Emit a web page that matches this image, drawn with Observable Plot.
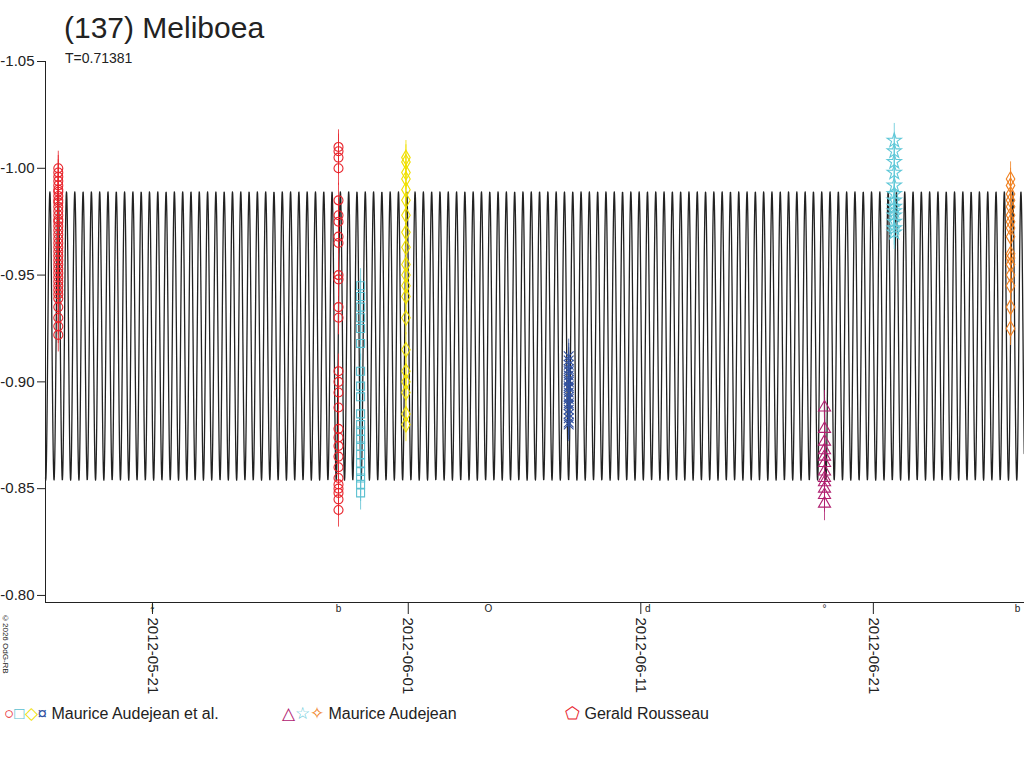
<!DOCTYPE html>
<html><head><meta charset="utf-8">
<script src="https://cdn.jsdelivr.net/npm/d3@7"></script>
<script src="https://cdn.jsdelivr.net/npm/@observablehq/plot@0.6"></script>
<style>
body{margin:0;background:#fff;font-family:"Liberation Sans",Arial,sans-serif;}
#wrap{position:relative;width:1024px;height:768px;overflow:hidden}
#title{position:absolute;left:64px;top:11px;font-size:30px;color:#222}
#sub{position:absolute;left:65px;top:50px;font-size:14px;color:#222}
#copy{position:absolute;left:1px;top:614px;font-size:8px;writing-mode:vertical-rl;color:#222}
#legend{position:absolute;top:703px;left:4px;font-size:16px;color:#222;width:1020px}
#legend span.g{position:absolute;white-space:nowrap}
#legend b{font-weight:normal;font-size:17px}
</style></head><body>
<div id="wrap"><div id="chart"></div>
<div id="title">(137) Meliboea</div><div id="sub">T=0.71381</div>
<div id="copy">©2026 OdG-RB</div>
<div id="legend"></div></div>
<script>
// Days are counted from 2012-05-21
const tickDays = [0, 11, 21, 31];
const tickLabels = ["2012-05-21", "2012-06-01", "2012-06-11", "2012-06-21"];
const periodDays = 0.71381;
const modelMean = -0.9215, modelAmp = 0.0675, modelPhase = 0.05;
const xDomain = [-4.6, 37.5];
const yDomain = [-1.05, -0.7967];

const red1Day = -4.05;
const red1Mag = [-1.000,-0.998,-0.996,-0.994,-0.992,-0.990,-0.989,-0.987,-0.985,-0.984,-0.982,-0.980,-0.978,-0.976,-0.975,-0.973,-0.971,-0.969,-0.967,-0.965,-0.963,-0.961,-0.959,-0.957,-0.955,-0.953,-0.951,-0.949,-0.947,-0.945,-0.943,-0.941,-0.939,-0.935,-0.930,-0.926,-0.922];
const red2Day = 8.0;
const red2Mag = [-1.010,-1.008,-1.005,-1.000,-0.985,-0.978,-0.975,-0.968,-0.965,-0.950,-0.948,-0.935,-0.930,-0.905,-0.900,-0.895,-0.888,-0.878,-0.874,-0.870,-0.865,-0.860,-0.855,-0.852,-0.850,-0.848,-0.845,-0.840];
const cyanDay = 8.95;
const cyanMag = [-0.945,-0.940,-0.935,-0.930,-0.925,-0.918,-0.905,-0.898,-0.893,-0.885,-0.880,-0.877,-0.873,-0.870,-0.866,-0.862,-0.858,-0.855,-0.852,-0.848];
const yellowDay = 10.9;
const yellowMag = [-1.005,-1.003,-0.998,-0.995,-0.990,-0.985,-0.978,-0.970,-0.963,-0.955,-0.950,-0.945,-0.940,-0.930,-0.915,-0.905,-0.900,-0.895,-0.885,-0.880];
const blueDay = 17.9;
const blueMag = [-0.912,-0.910,-0.908,-0.906,-0.905,-0.903,-0.901,-0.900,-0.898,-0.897,-0.895,-0.893,-0.892,-0.890,-0.889,-0.887,-0.885,-0.883,-0.881,-0.880];
const magentaDay = 28.9;
const magentaMag = [-0.888,-0.878,-0.872,-0.868,-0.865,-0.862,-0.858,-0.855,-0.853,-0.850,-0.847,-0.843];
const starDay = 31.9;
const starMag = [-1.013,-1.008,-1.003,-0.998,-0.992,-0.988,-0.985,-0.982,-0.980,-0.978,-0.975,-0.972,-0.970];
const orangeDay = 36.9;
const orangeMag = [-0.995,-0.992,-0.988,-0.985,-0.982,-0.978,-0.975,-0.972,-0.968,-0.960,-0.958,-0.955,-0.950,-0.945,-0.935,-0.925];
const marksBelow = [[0,"ɫ"],[8,"b"],[14.45,"O"],[21.3,"d"],[28.9,"°"],[37.2,"b"]];

const groups = [
  {day:red1Day, mags:red1Mag, sym:"circle", col:"#e8242c"},
  {day:red2Day, mags:red2Mag, sym:"circle", col:"#e8242c"},
  {day:cyanDay, mags:cyanMag, sym:"square", col:"#5bc0d0"},
  {day:yellowDay, mags:yellowMag, sym:"diamond", col:"#f0e000"},
  {day:blueDay, mags:blueMag, sym:"times", col:"#3050a0"},
  {day:magentaDay, mags:magentaMag, sym:"triangle", col:"#b02070"},
  {day:starDay, mags:starMag, sym:"star", col:"#60c8d8"},
  {day:orangeDay, mags:orangeMag, sym:"diamond", col:"#f08020"}
];
const pts = groups.flatMap(g => g.mags.map(m => ({t:g.day, m, sym:g.sym, col:g.col})));

// Fourier model of the lightcurve
const model = d3.range(xDomain[0], xDomain[1], 0.01).map(t => ({t, m: modelMean + modelAmp*Math.cos(4*Math.PI*(t - modelPhase)/periodDays)}));

const chart = Plot.plot({
  width:1024, height:768,
  marginLeft:45, marginRight:0, marginTop:61, marginBottom:166,
  style:{fontFamily:"Liberation Sans, Arial, sans-serif", fontSize:"15px", color:"#222"},
  x:{domain:xDomain, ticks:tickDays, tickFormat:(d,i)=>tickLabels[tickDays.indexOf(d)], tickRotate:90, tickSize:12, label:null},
  y:{domain:yDomain, reverse:true, ticks:[-1.05,-1.0,-0.95,-0.9,-0.85,-0.8], tickFormat:d=>d.toFixed(2), tickSize:8, label:null},
  marks:[
    Plot.line(model, {x:"t", y:"m", stroke:"#222", strokeWidth:1.3}),
    Plot.ruleX(pts, {x:"t", y1:d=>d.m-0.008, y2:d=>d.m+0.008, stroke:"col", strokeWidth:0.8}),
    Plot.dot(pts, {x:"t", y:"m", symbol:"sym", stroke:"col", r:4.5, strokeWidth:1.1}),
    Plot.ruleY([-0.7967], {stroke:"#222"}),
    Plot.ruleX([xDomain[0]], {stroke:"#222", y1:-1.05, y2:-0.7967}),
    Plot.text(marksBelow, {x:d=>d[0], y:-0.7937, text:d=>d[1], fontSize:10, fill:"#222"})
  ]
});
document.getElementById("chart").appendChild(chart);

const leg = document.getElementById("legend");
leg.innerHTML = `
<span class="g" style="left:0"><b style="color:#e8242c">○</b><b style="color:#5bc0d0">□</b><b style="color:#f0e000">◇</b><b style="color:#3050a0">¤</b> Maurice Audejean et al.</span>
<span class="g" style="left:278px"><b style="color:#b02070">△</b><b style="color:#60c8d8">☆</b><b style="color:#f08020">✧</b> Maurice Audejean</span>
<span class="g" style="left:561px"><b style="color:#e8242c">⬠</b> Gerald Rousseau</span>`;
</script></body></html>
